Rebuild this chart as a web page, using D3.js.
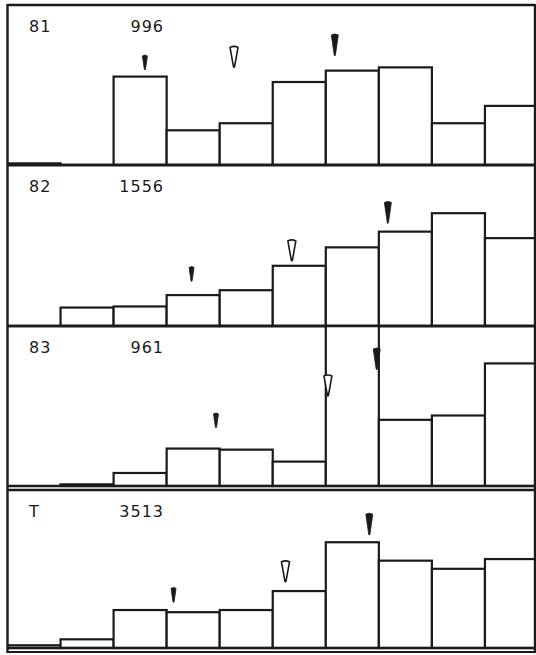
<!DOCTYPE html>
<html>
<head>
<meta charset="utf-8">
<script src="https://cdn.jsdelivr.net/npm/d3@7"></script>
<style>
  html, body { margin: 0; padding: 0; background: #fff; }
  svg { display: block; }
  text { font-family: "DejaVu Sans", sans-serif; fill: #1a1a1a; }
</style>
</head>
<body>
<script>
// ---- data ----
const bins = [1, 2, 3, 4, 5, 6, 7, 8, 9, 10];
const panelNames = ["81", "82", "83", "T"];
const panelTotals = ["996", "1556", "961", "3513"];
// percentage of cases per bin
const pct81 = [0.3, 0, 16.3, 6.4, 7.7, 15.3, 17.4, 18.0, 7.7, 10.9];
const pct82 = [0, 3.4, 3.6, 5.7, 6.6, 11.1, 14.5, 17.4, 20.8, 16.2];
const pct83 = [0, 0.3, 2.4, 6.9, 6.7, 4.5, 30.7, 12.2, 13.0, 22.6];
const pctT  = [0.5, 1.6, 7.0, 6.6, 7.0, 10.5, 19.5, 16.1, 14.6, 16.4];
// marker positions (x in bin units, y = tip height in %)
const markLowX  = [2.59, 3.47, 3.93, 3.13];
const markLowY  = [17.5, 8.2, 10.7, 8.4];
const markMidX  = [4.27, 5.36, 6.04, 5.24];
const markMidY  = [18.0, 12.0, 16.6, 12.2];
const markHighX = [6.17, 7.17, 6.96, 6.82];
const markHighY = [20.1, 18.9, 21.4, 20.8];

const series = [pct81, pct82, pct83, pctT];

// ---- layout ----
const W = 536, H = 655;
const ink = "#1a1a1a";
const frameL = 7.5, frameR = 535;
const panelTop  = [5, 165, 326, 490];
const panelBase = [165, 326, 486, 648];

const svg = d3.select("body").append("svg")
  .attr("width", W).attr("height", H);

const x = d3.scaleLinear().domain([0, bins.length]).range([7.5, 538]);
const h = d3.scaleLinear().domain([0, 29.5]).range([0, 160]);

const defs = svg.append("defs");

series.forEach((vals, p) => {
  const top = panelTop[p], base = panelBase[p];
  const clipId = "clip" + p;
  defs.append("clipPath").attr("id", clipId)
    .append("rect")
    .attr("x", frameL).attr("y", top)
    .attr("width", frameR - frameL).attr("height", base - top + 2);

  const g = svg.append("g").attr("clip-path", `url(#${clipId})`);

  g.selectAll("rect.bar")
    .data(vals.map((v, i) => ({ v, i })).filter(d => d.v > 0))
    .join("rect")
    .attr("class", "bar")
    .attr("x", d => x(d.i))
    .attr("width", d => x(d.i + 1) - x(d.i))
    .attr("y", d => base - h(d.v))
    .attr("height", d => h(d.v))
    .attr("fill", "#fff")
    .attr("stroke", ink)
    .attr("stroke-width", 2.2);

  // baseline
  svg.append("line")
    .attr("x1", frameL).attr("x2", frameR)
    .attr("y1", base).attr("y2", base)
    .attr("stroke", ink).attr("stroke-width", 2.4);

  // panel top line
  svg.append("line")
    .attr("x1", frameL).attr("x2", frameR)
    .attr("y1", top).attr("y2", top)
    .attr("stroke", ink).attr("stroke-width", 2.4);

  // labels
  svg.append("text")
    .attr("x", 29).attr("y", top + 27)
    .attr("font-size", 16).attr("letter-spacing", 1)
    .text(panelNames[p]);
  svg.append("text")
    .attr("x", 164).attr("y", top + 27)
    .attr("text-anchor", "end")
    .attr("font-size", 16).attr("letter-spacing", 1)
    .text(panelTotals[p]);

  // markers: downward pointing wedges
  const wedge = (w, len) => `M${-w / 2},${-len} Q0,${-len - 2} ${w / 2},${-len} L0.6,-1 L0,0 L-0.6,-1 Z`;
  const markers = [
    { xv: markLowX[p],  yv: markLowY[p],  w: 5, len: 14, fill: ink, sw: 0.8 },
    { xv: markMidX[p],  yv: markMidY[p],  w: 8, len: 20, fill: "#fff", sw: 1.6 },
    { xv: markHighX[p], yv: markHighY[p], w: 7, len: 21, fill: ink, sw: 0.8 }
  ];
  svg.selectAll(null).data(markers).join("path")
    .attr("transform", d => `translate(${x(d.xv)},${base - h(d.yv)})`)
    .attr("d", d => wedge(d.w, d.len))
    .attr("fill", d => d.fill)
    .attr("stroke", ink)
    .attr("stroke-width", d => d.sw)
    .attr("stroke-linejoin", "round");
});

// outer frame sides and bottom line
svg.append("line")
  .attr("x1", frameL).attr("x2", frameL)
  .attr("y1", panelTop[0] - 1).attr("y2", 653)
  .attr("stroke", ink).attr("stroke-width", 2.4);
svg.append("line")
  .attr("x1", frameR).attr("x2", frameR)
  .attr("y1", panelTop[0] - 1).attr("y2", 653)
  .attr("stroke", ink).attr("stroke-width", 2.4);
svg.append("line")
  .attr("x1", frameL).attr("x2", frameR)
  .attr("y1", 652).attr("y2", 652)
  .attr("stroke", ink).attr("stroke-width", 2.2);
</script>
</body>
</html>
